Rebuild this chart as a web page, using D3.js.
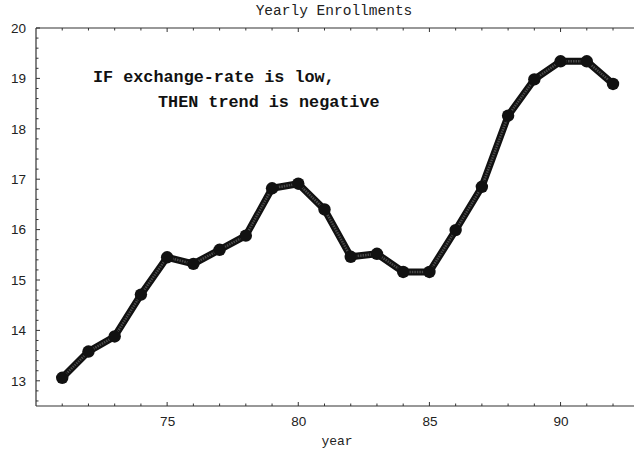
<!DOCTYPE html>
<html>
<head>
<meta charset="utf-8">
<script src="https://cdn.jsdelivr.net/npm/d3@7"></script>
<style>
  html, body { margin: 0; padding: 0; background: #fff; }
  svg { display: block; }
</style>
</head>
<body>
<svg id="chart" width="634" height="452"></svg>
<script>
// Yearly enrollments (thousands), 1971–1992
const years = [71, 72, 73, 74, 75, 76, 77, 78, 79, 80, 81, 82, 83, 84, 85, 86, 87, 88, 89, 90, 91, 92];
const enrollments = [13.06, 13.58, 13.88, 14.71, 15.45, 15.32, 15.60, 15.88, 16.82, 16.91, 16.40,
                     15.46, 15.52, 15.16, 15.16, 15.99, 16.85, 18.26, 18.98, 19.34, 19.34, 18.89];
const xTickLabels = [75, 80, 85, 90];
const yTickLabels = [13, 14, 15, 16, 17, 18, 19, 20];
const title = "Yearly Enrollments";
const xLabel = "year";
const ruleLines = ["IF exchange-rate is low,", "THEN trend is negative"];

const svg = d3.select("#chart");
const plotLeft = 36, plotRight = 634, plotTop = 28, plotBottom = 406;

const x = d3.scaleLinear().domain([70, 92.8]).range([plotLeft, plotRight]);
const y = d3.scaleLinear().domain([12.5, 20]).range([plotBottom, plotTop]);

const axisColor = "#333";
const tickFont = "'Liberation Sans', Arial, sans-serif";
const monoFont = "'Liberation Mono', 'Courier New', monospace";

// Frame lines: left, top, bottom (open on the right)
const frame = svg.append("g").attr("stroke", axisColor).attr("stroke-width", 1.2).attr("fill", "none");
frame.append("line").attr("x1", plotLeft).attr("x2", plotLeft).attr("y1", plotTop).attr("y2", plotBottom);
frame.append("line").attr("x1", plotLeft).attr("x2", plotRight).attr("y1", plotTop).attr("y2", plotTop);
frame.append("line").attr("x1", plotLeft).attr("x2", plotRight).attr("y1", plotBottom).attr("y2", plotBottom);

// Year ticks (every year, longer every 5), pointing inward on top and bottom
const yearTicks = d3.range(71, 93);
const tickG = svg.append("g").attr("stroke", axisColor).attr("stroke-width", 1);
yearTicks.forEach(t => {
  const len = t % 5 === 0 ? 4 : 2.5;
  tickG.append("line").attr("x1", x(t)).attr("x2", x(t)).attr("y1", plotBottom).attr("y2", plotBottom - len);
  tickG.append("line").attr("x1", x(t)).attr("x2", x(t)).attr("y1", plotTop).attr("y2", plotTop + len);
});

// Value ticks on the left edge (major every 1, minor every 0.2)
d3.range(12.6, 20.01, 0.2).forEach(v => {
  const major = Math.abs(v - Math.round(v)) < 1e-6;
  tickG.append("line").attr("x1", plotLeft).attr("x2", plotLeft + (major ? 4 : 2.5))
    .attr("y1", y(v)).attr("y2", y(v));
});

// Tick labels via D3 axes (tick marks themselves hidden)
const xAxis = d3.axisBottom(x).tickValues(xTickLabels).tickSize(0).tickPadding(10);
svg.append("g").attr("transform", `translate(0,${plotBottom})`).call(xAxis)
  .call(g => g.select(".domain").remove())
  .call(g => g.selectAll("text").attr("font-family", tickFont).attr("font-size", 13.5).attr("fill", "#222"));

const yAxis = d3.axisLeft(y).tickValues(yTickLabels).tickSize(0).tickPadding(10);
svg.append("g").attr("transform", `translate(${plotLeft},0)`).call(yAxis)
  .call(g => g.select(".domain").remove())
  .call(g => g.selectAll("text").attr("font-family", tickFont).attr("font-size", 13.5).attr("fill", "#222"));

// Title and axis label
svg.append("text").attr("x", 334).attr("y", 15).attr("text-anchor", "middle")
  .attr("font-family", monoFont).attr("font-size", 14.5).attr("fill", "#222").text(title);
svg.append("text").attr("x", 337).attr("y", 445).attr("text-anchor", "middle")
  .attr("font-family", monoFont).attr("font-size", 13).attr("fill", "#222").text(xLabel);

// Rule annotation
const rule = svg.append("g").attr("font-family", monoFont).attr("font-weight", "bold")
  .attr("font-size", 16.8).attr("fill", "#111");
rule.append("text").attr("x", 93).attr("y", 82).text(ruleLines[0]);
rule.append("text").attr("x", 158).attr("y", 107).text(ruleLines[1]);

// Series
const pts = years.map((yr, i) => [yr, enrollments[i]]);
const line = d3.line().x(d => x(d[0])).y(d => y(d[1]));
svg.append("path").datum(pts).attr("d", line).attr("fill", "none")
  .attr("stroke", "#111").attr("stroke-width", 7).attr("stroke-linejoin", "round").attr("stroke-linecap", "round");
svg.append("path").datum(pts).attr("d", line).attr("fill", "none")
  .attr("stroke", "#4a4a4a").attr("stroke-width", 2.5).attr("stroke-dasharray", "1.5 1");
svg.append("g").selectAll("circle").data(pts).join("circle")
  .attr("cx", d => x(d[0])).attr("cy", d => y(d[1])).attr("r", 6.2).attr("fill", "#111");
</script>
</body>
</html>
